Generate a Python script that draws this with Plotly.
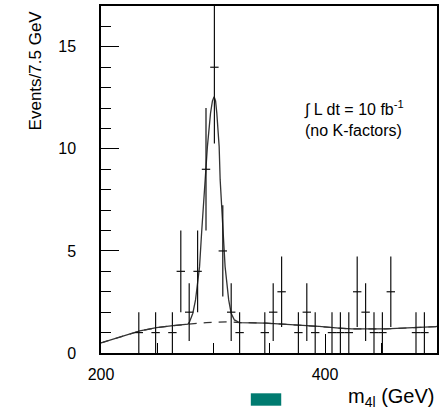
import numpy as np
import plotly.graph_objects as go

# ---------------- data ----------------
bin_width = 7.5
bin_lo = 200.0
counts = [0, 0, 0, 0, 1, 0, 1, 0, 1, 4,
          2, 4, 9, 14, 5, 2, 1, 0, 0, 1,
          2, 3, 0, 1, 2, 1, 0, 1, 1, 1,
          3, 2, 1, 1, 3, 0, 0, 1, 1, 0]

bg_mass = [200, 201.5, 234.7, 249.5, 264.3, 277.6, 294.0, 314.7, 320.6,
           347.3, 376.9, 394.7, 412.4, 424.0, 454.0, 471.7, 498.7, 500]
bg_val = [0.50, 0.52, 1.08, 1.24, 1.34, 1.41, 1.49, 1.53, 1.50,
          1.46, 1.37, 1.30, 1.22, 1.18, 1.18, 1.21, 1.29, 1.30]

tot_mass = [200, 201.5, 234.7, 249.5, 264.3, 277.6, 279.1, 282.0, 284.4,
            286.5, 288.0, 289.8, 291.6, 292.8, 295.0, 297.8, 299.5, 301.0,
            302.3, 303.4, 305.5, 306.4, 307.3, 308.7, 310.8, 314.0, 316.2,
            319.1, 323.6, 347.3, 376.9, 394.7, 412.4, 424.0, 454.0, 471.7,
            498.7, 500]
tot_val = [0.50, 0.52, 1.08, 1.24, 1.34, 1.41, 1.53, 1.95, 2.60,
           3.42, 4.23, 5.87, 7.50, 8.48, 10.11, 11.75, 12.35, 12.56,
           12.35, 11.75, 10.11, 8.48, 7.50, 5.87, 4.23, 2.60, 1.95,
           1.62, 1.49, 1.46, 1.37, 1.30, 1.22, 1.18, 1.18, 1.21,
           1.29, 1.30]

x_title = "m<sub>4l</sub> (GeV)"
y_title = "Events/7.5 GeV"
note_text = "\u222b L dt = 10 fb<sup>-1</sup><br>(no K-factors)"

# ---------------- layout helpers ----------------
W, H = 442, 411
L, R, T, B = 101, 3, 6, 58
PW, PH = W - L - R, H - T - B


def px(xp):
    return (xp - L) / PW


def py(yp):
    return (H - B - yp) / PH


FONT = "Liberation Sans, Arial, Helvetica, sans-serif"

centers = [bin_lo + bin_width * (i + 0.5) for i in range(len(counts))]
xs = [c for c, n in zip(centers, counts) if n > 0]
ys = [n for n in counts if n > 0]
errs = [float(np.sqrt(n)) for n in ys]

fig = go.Figure()

fig.add_trace(go.Scatter(
    x=bg_mass, y=bg_val, mode="lines",
    line=dict(color="#333333", width=1.2, dash="8px,7px"),
    hoverinfo="skip", showlegend=False))

fig.add_trace(go.Scatter(
    x=tot_mass, y=tot_val, mode="lines",
    line=dict(color="#333333", width=1.3),
    hoverinfo="skip", showlegend=False))

fig.add_trace(go.Scatter(
    x=xs, y=ys, mode="markers",
    marker=dict(size=1, color="#111111"),
    error_x=dict(type="constant", value=bin_width / 2, width=0,
                 thickness=1.2, color="#111111"),
    error_y=dict(type="data", array=errs, width=0,
                 thickness=1.2, color="#111111"),
    showlegend=False))

fig.update_layout(
    width=W, height=H,
    margin=dict(l=L, r=R, t=T, b=B),
    paper_bgcolor="white", plot_bgcolor="white",
    font=dict(family=FONT, color="black", size=16),
    xaxis=dict(range=[200, 500], tick0=200, dtick=200,
               ticks="inside", ticklen=19, tickwidth=1, tickcolor="black",
               minor=dict(dtick=50, ticks="inside", ticklen=10,
                          tickwidth=1, tickcolor="black"),
               showline=True, mirror=True, linecolor="black", linewidth=1.5,
               showgrid=False, zeroline=False,
               tickfont=dict(size=16), ticklabelstandoff=6),
    yaxis=dict(range=[0, 17], tick0=0, dtick=5,
               ticks="inside", ticklen=18, tickwidth=1, tickcolor="black",
               minor=dict(dtick=1, ticks="inside", ticklen=10,
                          tickwidth=1, tickcolor="black"),
               showline=True, mirror=True, linecolor="black", linewidth=1.5,
               showgrid=False, zeroline=False,
               tickfont=dict(size=16), ticklabelstandoff=20),
)

fig.add_annotation(text=y_title, xref="paper", yref="paper",
                   x=px(35), y=py(70), xanchor="center", yanchor="middle",
                   textangle=-90, showarrow=False, font=dict(size=17))
fig.add_annotation(text=x_title, xref="paper", yref="paper",
                   x=px(438), y=py(397), xanchor="right", yanchor="middle",
                   showarrow=False, font=dict(size=20))
fig.add_annotation(text=note_text, xref="paper", yref="paper",
                   x=px(303), y=py(118), xanchor="left", yanchor="middle",
                   align="left", showarrow=False, font=dict(size=16))

fig.add_shape(type="rect", xref="paper", yref="paper",
              x0=px(251.7), x1=px(282.3), y0=py(405.7), y1=py(393.3),
              fillcolor="#007B70", line=dict(width=0))

fig.write_html("out.html",
               config={"displayModeBar": False},
               post_script="document.body.style.margin='0';"
                           "document.body.style.overflow='hidden';")
